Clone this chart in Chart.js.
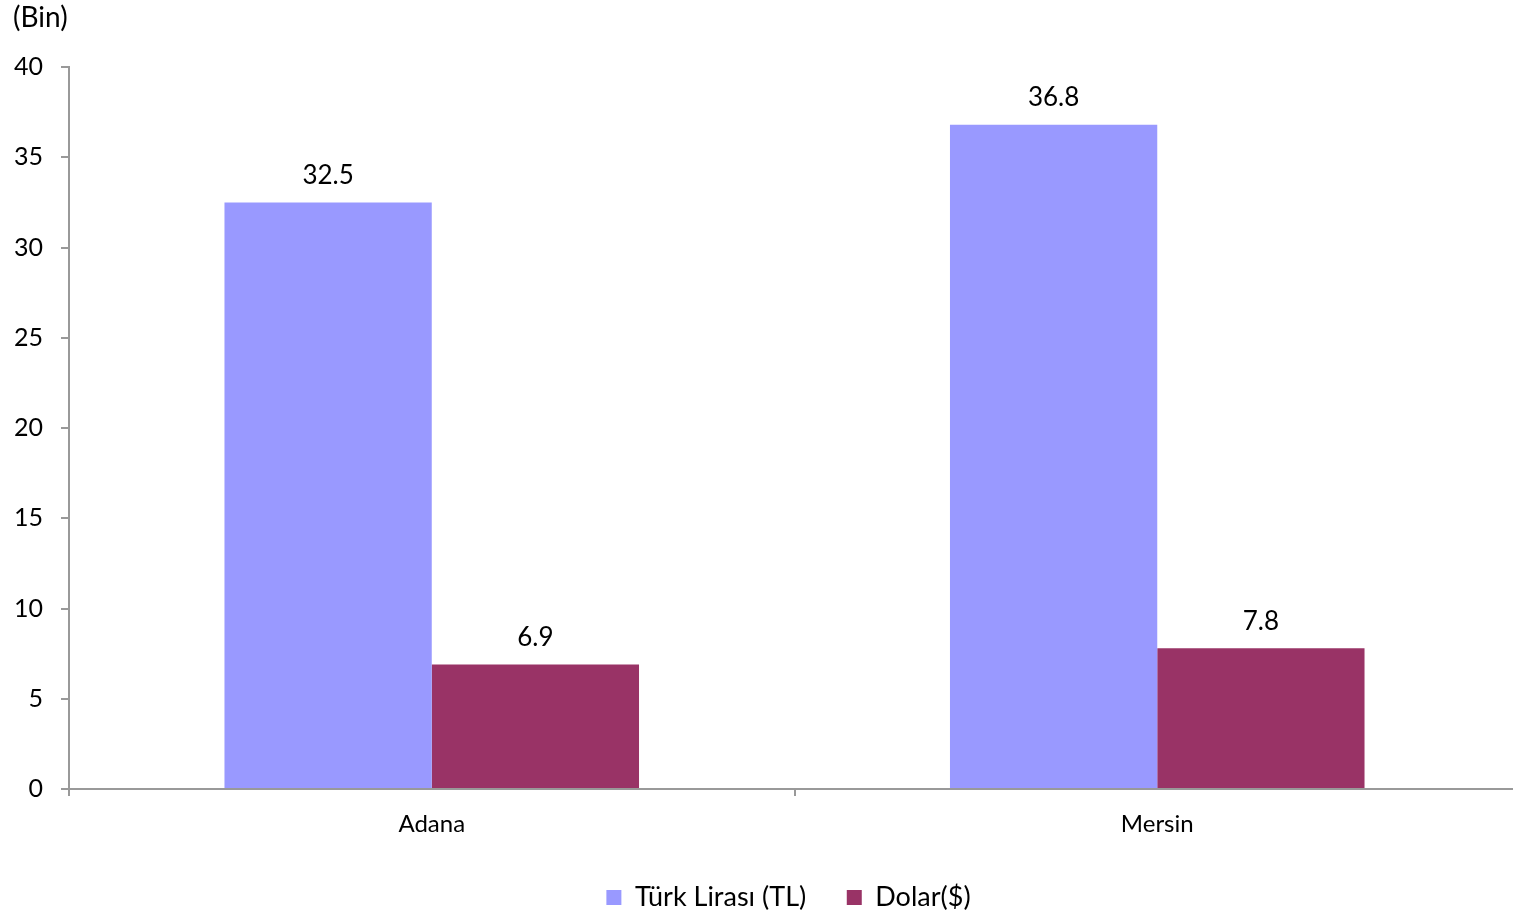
<!DOCTYPE html>
<html>
<head>
<meta charset="utf-8">
<script src="https://cdn.jsdelivr.net/npm/chart.js@4.4.0/dist/chart.umd.min.js"></script>
<style>
  html, body { margin: 0; padding: 0; background: #fff; overflow: hidden; }
  #wrap { width: 1520px; height: 914px; }
</style>
</head>
<body>
<div id="wrap"><canvas id="grafik" width="1520" height="914"></canvas></div>
<script>
// veriler
var sehirler = ['Adana', 'Mersin'];
var tlDegerleri = [32.5, 36.8];
var dolarDegerleri = [6.9, 7.8];
var yEtiketleri = [0, 5, 10, 15, 20, 25, 30, 35, 40];

var yaziTipi = 'Lato, "Open Sans", sans-serif';

// bar üstü değer etiketleri
var degerEtiketi = {
    id: 'degerEtiketi',
    afterDatasetsDraw: function(chart) {
        var ctx = chart.ctx;
        ctx.save();
        ctx.font = '26px ' + yaziTipi;
        ctx.fillStyle = '#000';
        ctx.textAlign = 'center';
        ctx.textBaseline = 'bottom';
        chart.data.datasets.forEach(function(ds, i) {
            chart.getDatasetMeta(i).data.forEach(function(bar, j) {
                ctx.fillText(ds.data[j].toFixed(1), bar.x, bar.y - 14);
            });
        });
        ctx.restore();
    }
};

// sol üstteki birim yazısı + lejantı çizim alanına ortala
var birimYazisi = {
    id: 'birimYazisi',
    beforeDraw: function(chart) {
        if (chart.legend) {
            chart.legend.left = chart.chartArea.left - 6;
            chart.legend.right = chart.chartArea.right - 6;
        }
    },
    afterDraw: function(chart) {
        var ctx = chart.ctx;
        ctx.save();
        ctx.font = '28px ' + yaziTipi;
        ctx.fillStyle = '#000';
        ctx.textAlign = 'left';
        ctx.textBaseline = 'middle';
        ctx.fillText('(Bin)', 13, 18);
        ctx.restore();
    }
};

var ctx = document.getElementById('grafik').getContext('2d');
var grafik = new Chart(ctx, {
    type: 'bar',
    data: {
        labels: sehirler,
        datasets: [{
            label: 'Türk Lirası (TL)',
            data: tlDegerleri,
            backgroundColor: '#9999FF'
        }, {
            label: 'Dolar($)',
            data: dolarDegerleri,
            backgroundColor: '#993366'
        }]
    },
    options: {
        responsive: false,
        animation: false,
        layout: { padding: { top: 67, right: 0, left: 0, bottom: 0 } },
        datasets: {
            bar: { barPercentage: 1, categoryPercentage: 0.5714 }
        },
        plugins: {
            legend: {
                position: 'bottom',
                labels: {
                    font: { family: yaziTipi, size: 27 },
                    color: '#000',
                    boxWidth: 15,
                    boxHeight: 15,
                    padding: 6,
                    generateLabels: function(chart) {
                        var items = Chart.defaults.plugins.legend.labels.generateLabels(chart);
                        // öğeler arası boşluk
                        items[0].text = items[0].text + '     ';
                        return items;
                    }
                }
            },
            tooltip: { enabled: false }
        },
        scales: {
            x: {
                grid: {
                    drawOnChartArea: false,
                    drawTicks: true,
                    tickLength: 7,
                    color: '#999',
                    lineWidth: 2
                },
                border: { color: '#999', width: 2 },
                ticks: {
                    font: { family: yaziTipi, size: 24 },
                    color: '#000',
                    padding: 14
                },
                afterFit: function(scale) { scale.height = 89; }
            },
            y: {
                min: 0,
                max: 40,
                afterBuildTicks: function(scale) {
                    scale.ticks = yEtiketleri.map(function(v) { return { value: v }; });
                },
                grid: {
                    drawOnChartArea: false,
                    drawTicks: true,
                    tickLength: 8,
                    color: '#999',
                    lineWidth: 2
                },
                border: { color: '#999', width: 2 },
                ticks: {
                    font: { family: yaziTipi, size: 25 },
                    color: '#000',
                    padding: 18
                },
                afterFit: function(scale) { scale.width = 69; }
            }
        }
    },
    plugins: [degerEtiketi, birimYazisi]
});

// lejant yüksekliğini sabitle
var eskiFit = grafik.legend.fit;
grafik.legend.fit = function() {
    eskiFit.call(this);
    this.height = 36;
};
grafik.update();
</script>
</body>
</html>
